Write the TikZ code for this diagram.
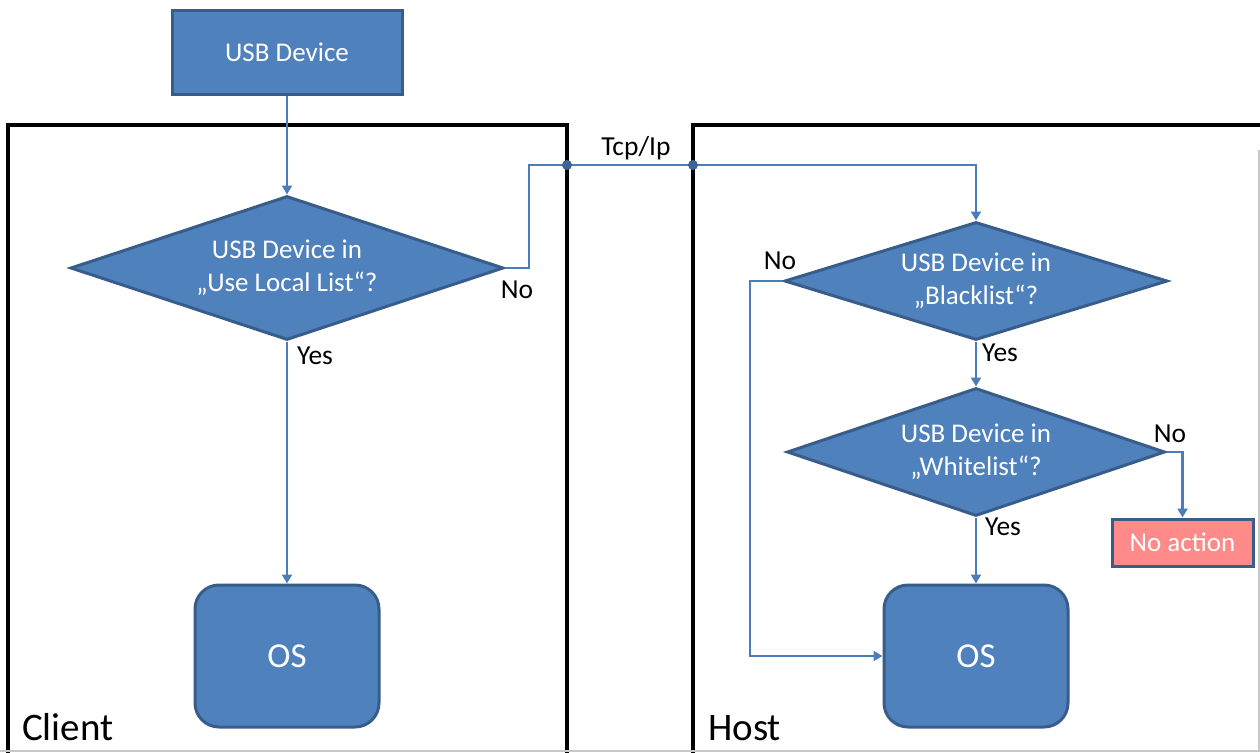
\documentclass[tikz,border=0pt]{standalone}
\usepackage{fontspec}
\setmainfont{Carlito}
\usetikzlibrary{shapes.geometric,arrows.meta}
\definecolor{boxfill}{HTML}{4F81BD}
\definecolor{boxline}{HTML}{385D8A}
\definecolor{connc}{HTML}{4A7EBB}
\definecolor{dotc}{HTML}{3B6497}
\definecolor{pinkfill}{HTML}{FF8A8A}
\tikzset{
  bluebox/.style={draw=boxline, fill=boxfill, line width=3pt, text=white, inner sep=0pt, align=center,
    font=\fontsize{27}{33}\selectfont},
  dec/.style={bluebox, diamond, aspect=3},
  osbox/.style={bluebox, rounded corners=24pt, minimum width=184pt, minimum height=142pt,
    font=\fontsize{35}{38}\selectfont},
  conn/.style={draw=connc, line width=2.2pt, -{Triangle[width=10pt,length=9pt]}},
  lbl/.style={font=\fontsize{27.5}{30}\selectfont, text=black, inner sep=0pt},
  frame/.style={draw=black, line width=4pt},
  jdot/.style={circle, fill=dotc, minimum size=10pt, inner sep=0pt},
}
\begin{document}
\begin{tikzpicture}[x=1pt,y=-1pt]
\useasboundingbox (0,0) rectangle (1260,752);
\fill[white] (0,0) rectangle (1260,752);
% frames
\draw[frame] (8,770) -- (8,125) -- (567,125) -- (567,770);
\draw[frame] (693,770) -- (693,125) -- (1280,125);
\draw[black!22, line width=1.5pt] (0,751) -- (1260,751);
\draw[black!22, line width=1.5pt] (1259,150) -- (1259,752);
% nodes
\node[bluebox, minimum width=230pt, minimum height=83pt] (usb) at (287,52.5) {USB Device};
\node[dec, minimum width=433pt, minimum height=144pt] (d1) at (287,268) {USB Device in\\„Use Local List“?};
\node[osbox] (os1) at (287,656) {OS};
\node[dec, minimum width=383pt, minimum height=118pt] (d2) at (976,281) {USB Device in\\„Blacklist“?};
\node[dec, minimum width=378pt, minimum height=128pt] (d3) at (976,452) {USB Device in\\„Whitelist“?};
\node[osbox] (os2) at (976,656) {OS};
\node[bluebox, fill=pinkfill, minimum width=141pt, minimum height=47pt] (noact) at (1182.5,542.5) {No action};
\coordinate (j1) at (567,165);
\coordinate (j2) at (693,165);
% connectors
\draw[conn] (usb) -- (d1);
\draw[conn] (d1) -- (os1);
\draw[conn] (d1.east) -- ++(24,0) |- (j1) -- (j2) -| (d2.north);
\draw[conn] (d2.west) -- ++(-33,0) |- (os2.west);
\draw[conn] (d2) -- (d3);
\draw[conn] (d3.east) -| (noact.north);
\draw[conn] (d3) -- (os2);
\node[jdot] at (j1) {};
\node[jdot] at (j2) {};
% labels
\node[lbl] (tcp) at (636,148) {Tcp/Ip};
\node[lbl] (yes1) at (315,356) {Yes};
\node[lbl] (no1) at (517,290) {No};
\node[lbl] (no2) at (780,261) {No};
\node[lbl] (yes2) at (1000,353) {Yes};
\node[lbl] (no3) at (1170,434) {No};
\node[lbl] (yes3) at (1003,527) {Yes};
\node[lbl, font=\fontsize{39}{42}\selectfont, anchor=base west] (client) at (22,740) {Client};
\node[lbl, font=\fontsize{39}{42}\selectfont, anchor=base west] (host) at (708,740) {Host};
\end{tikzpicture}
\end{document}
